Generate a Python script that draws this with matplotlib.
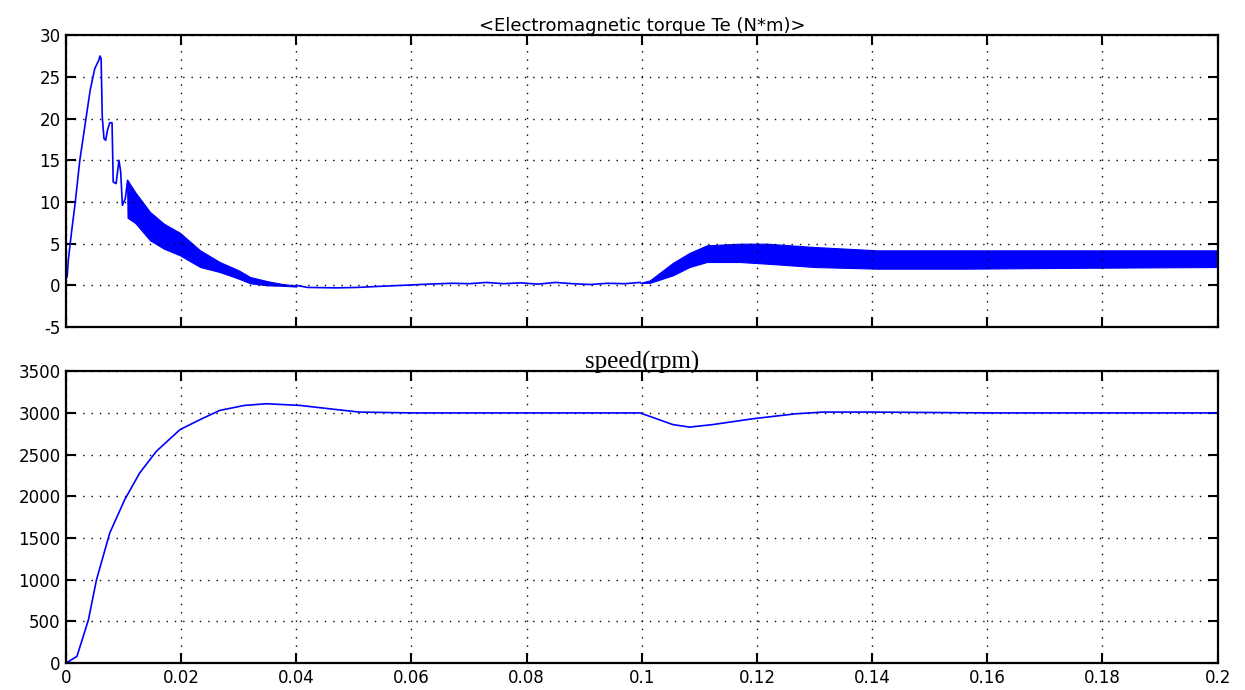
import numpy as np
import matplotlib
matplotlib.use("Agg")
import matplotlib.pyplot as plt

# =========================
# DATA
# =========================

# torque start-up: rise, peak and first big oscillations
te_start_t = [0, 0.0002, 0.0004, 0.001, 0.0016, 0.0024, 0.0033, 0.0042, 0.005,
              0.0057, 0.0059, 0.0061, 0.0063, 0.0066, 0.0069, 0.0072, 0.0076,
              0.0080, 0.0082, 0.0087, 0.0092, 0.0095, 0.0098, 0.0103, 0.0107, 0.0109]
te_start_v = [1.2, 1.0, 3.0, 6.6, 9.9, 15.0, 19.2, 23.4, 26.0,
              27.0, 27.5, 27.2, 20.2, 17.6, 17.4, 18.6, 19.5,
              19.5, 12.4, 12.2, 15.0, 13.6, 9.6, 10.4, 12.6, 8.1]

# torque ripple band while accelerating (upper / lower envelope)
te_band1_t = [0.0107, 0.012, 0.0146, 0.017, 0.0198, 0.0233, 0.0267, 0.030, 0.032, 0.035, 0.0377, 0.040]
te_band1_up = [12.6, 11.2, 8.8, 7.4, 6.3, 4.2, 2.8, 1.8, 1.0, 0.5, 0.15, 0.0]
te_band1_lo = [8.1, 7.5, 5.4, 4.4, 3.6, 2.2, 1.6, 0.8, 0.25, 0.0, -0.05, -0.15]

# torque at no load
te_mid_t = [0.040, 0.042, 0.047, 0.0505, 0.055, 0.060, 0.063, 0.067, 0.070, 0.073,
            0.076, 0.079, 0.082, 0.085, 0.088, 0.091, 0.094, 0.097, 0.0997]
te_mid_v = [0.0, -0.25, -0.3, -0.25, -0.1, 0.05, 0.15, 0.25, 0.2, 0.35,
            0.2, 0.3, 0.15, 0.35, 0.2, 0.1, 0.25, 0.2, 0.35]

# torque ripple band after load step
te_band2_t = [0.0997, 0.1014, 0.1054, 0.1083, 0.1113, 0.117, 0.1217, 0.130, 0.141, 0.156, 0.175, 0.2]
te_band2_up = [0.3, 0.6, 2.7, 3.9, 4.8, 5.0, 5.0, 4.6, 4.2, 4.2, 4.2, 4.2]
te_band2_lo = [0.3, 0.3, 1.2, 2.2, 2.8, 2.8, 2.6, 2.2, 2.0, 2.0, 2.1, 2.2]

# rotor speed (rpm)
speed_t = [0, 0.0019, 0.0039, 0.0053, 0.0076, 0.0102, 0.0128, 0.0157, 0.0198,
           0.0233, 0.0267, 0.031, 0.0348, 0.0406, 0.047, 0.051, 0.06, 0.0997,
           0.1054, 0.1083, 0.1123, 0.1193, 0.1268, 0.1315, 0.14, 0.16, 0.2]
speed_v = [0, 80, 520, 1000, 1560, 1960, 2280, 2540, 2800,
           2920, 3030, 3090, 3110, 3090, 3040, 3010, 3000, 3000,
           2860, 2830, 2860, 2930, 2990, 3010, 3010, 3000, 3000]

x_ticks = [0, 0.02, 0.04, 0.06, 0.08, 0.1, 0.12, 0.14, 0.16, 0.18, 0.2]
x_labels = ["0", "0.02", "0.04", "0.06", "0.08", "0.1", "0.12", "0.14", "0.16", "0.18", "0.2"]
te_ticks = [-5, 0, 5, 10, 15, 20, 25, 30]
speed_ticks = [0, 500, 1000, 1500, 2000, 2500, 3000, 3500]

# =========================
# FIGURE
# =========================

plt.rcParams["font.family"] = ["DejaVu Sans"]
fig = plt.figure(figsize=(12.45, 6.9), dpi=100)

ax1 = fig.add_axes([0.053, 0.526, 0.925, 0.423])
ax2 = fig.add_axes([0.053, 0.039, 0.925, 0.423])

blue = "#0000ff"

ax1.plot(te_start_t, te_start_v, color=blue, lw=1.2)
ax1.fill_between(te_band1_t, te_band1_lo, te_band1_up, color=blue, lw=0.8)
ax1.plot(te_mid_t, te_mid_v, color=blue, lw=1.2)
ax1.fill_between(te_band2_t, te_band2_lo, te_band2_up, color=blue, lw=0.8)

ax2.plot(speed_t, speed_v, color=blue, lw=1.2)

# =========================
# AXES STYLE (scope look)
# =========================

for ax, yt in [(ax1, te_ticks), (ax2, speed_ticks)]:
    ax.set_xlim(0, 0.2)
    ax.set_ylim(yt[0], yt[-1])
    ax.set_xticks(x_ticks)
    ax.set_yticks(yt)
    ax.set_yticklabels([str(v) for v in yt])
    ax.grid(True, color="black", linestyle=(0, (1, 5)), linewidth=1.0)
    ax.tick_params(direction="in", length=7, width=1.5, top=True, right=True,
                   labelsize=12, pad=4, colors="black")
    for s in ax.spines.values():
        s.set_linewidth(1.6)

ax1.set_xticklabels([])
ax2.set_xticklabels(x_labels)

ax1.set_title("<Electromagnetic torque Te (N*m)>", fontsize=13, pad=3)
ax2.set_title("speed(rpm)", fontsize=18, family="Liberation Serif", pad=2)

plt.savefig("out.png", dpi=100)
